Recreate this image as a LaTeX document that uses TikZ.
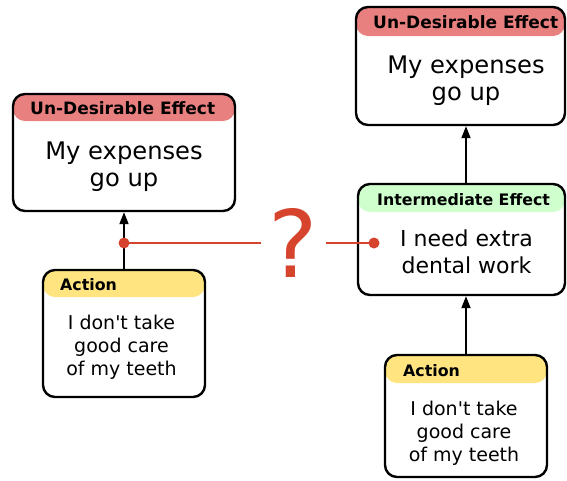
\documentclass[tikz,border=0pt]{standalone}
\usepackage{fontspec}
\setmainfont{DejaVu Sans}[Ligatures=TeXOff]
\usetikzlibrary{arrows.meta}
\definecolor{udered}{RGB}{232,128,128}
\definecolor{intgreen}{RGB}{206,255,204}
\definecolor{actyellow}{RGB}{255,228,128}
\definecolor{qred}{RGB}{214,68,46}
\tikzset{
  box/.style={draw=black, line width=2.4pt, rounded corners=12pt, fill=white, inner sep=0pt},
  boxwith/.style 2 args={box, path picture={\fill[#1] (path picture bounding box.north west) rectangle ([yshift=-#2]path picture bounding box.north east);}},
  hdr/.style={font=\fontsize{15.8}{18}\selectfont\bfseries, anchor=base west, inner sep=0pt},
  udehdr/.style={hdr, font=\fontsize{17}{19}\selectfont\bfseries},
  bigtxt/.style={font=\fontsize{24.2}{27}\selectfont, align=center, inner sep=0pt},
  midtxt/.style={font=\fontsize{22}{26.5}\selectfont, align=center, inner sep=0pt},
  smalltxt/.style={font=\fontsize{19}{22.8}\selectfont, align=center, inner sep=0pt},
  conn/.style={line width=1.8pt, -{Triangle[length=12pt,width=9pt]}},
  redline/.style={draw=qred, line width=2.5pt},
  qmark/.style={text=qred, font=\fontsize{93}{93}\selectfont, inner ysep=0pt, inner xsep=7.8pt},
  dot/.style={fill=qred}
}
\begin{document}
\begin{tikzpicture}[x=1pt,y=-1pt]
\useasboundingbox (0,0) rectangle (567,480);
% boxes
\node[boxwith={udered}{27pt}, minimum width=222pt, minimum height=117pt] (ude1) at (124,152.5) {};
\node[boxwith={udered}{29pt}, minimum width=209pt, minimum height=118pt] (ude2) at (460.5,66) {};
\node[boxwith={intgreen}{28pt}, minimum width=207pt, minimum height=111pt] (inter) at (461.5,239.5) {};
\node[boxwith={actyellow}{27pt}, minimum width=162pt, minimum height=127pt] (act1) at (124,333.5) {};
\node[boxwith={actyellow}{28pt}, minimum width=162pt, minimum height=122pt] (act2) at (466,416) {};
% headers
\node[udehdr] (h1) at (30,114.3) {Un-Desirable Effect};
\node[udehdr] (h2) at (373,28.3) {Un-Desirable Effect};
\node[hdr] (h3) at (377,205) {Intermediate Effect};
\node[hdr] (h4) at (60,290) {Action};
\node[hdr] (h5) at (403,376) {Action};
% bodies
\node[bigtxt] (b1) at (124,166.5) {My expenses\\go up};
\node[bigtxt] (b2) at (466,81) {My expenses\\go up};
\node[midtxt] (b3) at (466.5,252) {I need extra\\dental work};
\node[smalltxt] (b4) at (121.5,347) {I don't take\\good care\\of my teeth};
\node[smalltxt] (b5) at (464,433) {I don't take\\good care\\of my teeth};
% arrows
\draw[conn] (act1) -- (ude1);
\draw[conn] (act2.north) -- (act2.north |- inter.south);
\draw[conn] (inter.north -| act2.north) -- (act2.north |- ude2.south);
% question link
\coordinate (d1) at (124,243);
\coordinate (d2) at (374,243);
\node[qmark] (q) at (293.5,243) {?};
\draw[redline] (d1) -- (d1 -| q.west);
\draw[redline] (q.east |- d2) -- (d2);
\fill[dot] (d1) circle (5.5pt);
\fill[dot] (d2) circle (5.5pt);
\end{tikzpicture}
\end{document}
